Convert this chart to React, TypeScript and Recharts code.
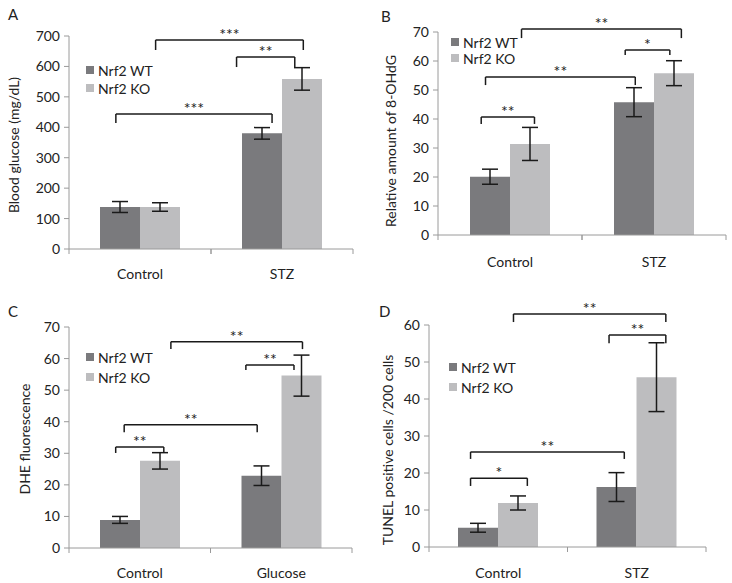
import React from "react";
import { BarChart, Bar, XAxis, YAxis, ErrorBar, ReferenceLine } from "recharts";

// Panel A - blood glucose
const catsA = ["Control", "STZ"];
const wtA = [138, 380];
const wtErrA = [18, 19];
const koA = [138, 559];
const koErrA = [14, 37];
const ticksA = [0, 100, 200, 300, 400, 500, 600, 700];
// brackets in data units (x on a 0..2 category scale)
const sigA = [
  { from: 0.61, to: 1.65, at: 687, leg: 654, mark: "***" },
  { from: 1.18, to: 1.59, at: 631, leg: 598, mark: "**" },
  { from: 0.33, to: 1.43, at: 444, leg: 414, mark: "***" },
];

// Panel B - 8-OHdG
const catsB = ["Control", "STZ"];
const wtB = [20.1, 45.8];
const wtErrB = [2.6, 5];
const koB = [31.4, 55.8];
const koErrB = [5.7, 4.3];
const ticksB = [0, 10, 20, 30, 40, 50, 60, 70];
const sigB = [
  { from: 0.58, to: 1.69, at: 71, leg: 67.9, mark: "**" },
  { from: 1.3, to: 1.61, at: 63.8, leg: 62.1, mark: "*" },
  { from: 0.33, to: 1.37, at: 54.5, leg: 51.7, mark: "**" },
  { from: 0.3, to: 0.67, at: 40.7, leg: 38.3, mark: "**" },
];

// Panel C - DHE fluorescence
const catsC = ["Control", "Glucose"];
const wtC = [8.9, 22.9];
const wtErrC = [1.1, 3.1];
const koC = [27.6, 54.6];
const koErrC = [2.6, 6.5];
const ticksC = [0, 10, 20, 30, 40, 50, 60, 70];
const sigC = [
  { from: 0.72, to: 1.65, at: 65.3, leg: 63, mark: "**" },
  { from: 1.25, to: 1.59, at: 58, leg: 56.4, mark: "**" },
  { from: 0.39, to: 1.33, at: 39, leg: 36.7, mark: "**" },
  { from: 0.33, to: 0.67, at: 32, leg: 30.1, mark: "**" },
];

// Panel D - TUNEL
const catsD = ["Control", "STZ"];
const wtD = [5.2, 16.2];
const wtErrD = [1.2, 3.9];
const koD = [11.9, 45.9];
const koErrD = [1.9, 9.3];
const ticksD = [0, 10, 20, 30, 40, 50, 60];
const sigD = [
  { from: 0.61, to: 1.71, at: 63, leg: 60.8, mark: "**" },
  { from: 1.3, to: 1.71, at: 57.3, leg: 55.1, mark: "**" },
  { from: 0.3, to: 1.41, at: 25.7, leg: 23.8, mark: "**" },
  { from: 0.3, to: 0.71, at: 18.6, leg: 16.5, mark: "*" },
];

const FONT = "Lato, 'Open Sans', sans-serif";
const WT_COLOR = "#7a7a7d";
const KO_COLOR = "#bdbdbf";
const AXIS = "#9a9a9a";
const TEXT = "#222";
const INK = "#1a1a1a";

type Sig = { from: number; to: number; at: number; leg: number; mark: string };

type PanelProps = {
  letter: string;
  yLabel: string;
  cats: string[];
  wt: number[];
  wtErr: number[];
  ko: number[];
  koErr: number[];
  ticks: number[];
  sig: Sig[];
  left: number;
  top: number;
  height: number;
  margin: { top: number; right: number; bottom: number; left: number };
  legendPos: { left: number; top: number; row: number };
  letterPos: { left: number; top: number };
  yLabelPos: { x: number; y: number };
  labelDy: number;
};

// category label plus Excel-style tick marks at the category boundaries
function CatTick(props: any) {
  const { x, y, payload, width, cats, labelDy } = props;
  const half = typeof width === "number" ? width / 4 : 0;
  const idx = Math.round(payload.value - 0.5);
  return (
    <g>
      {half > 0 && (
        <>
          <line x1={x - half} y1={y} x2={x - half} y2={y + 5} stroke={AXIS} />
          <line x1={x + half} y1={y} x2={x + half} y2={y + 5} stroke={AXIS} />
        </>
      )}
      <text x={x} y={y + labelDy} textAnchor="middle" fill={TEXT} fontSize={14} fontFamily={FONT}>
        {cats[idx]}
      </text>
    </g>
  );
}

function Panel(p: PanelProps) {
  const data = p.cats.map((c, i) => ({
    pos: i + 0.5,
    cat: c,
    wt: p.wt[i],
    wtErr: p.wtErr[i],
    ko: p.ko[i],
    koErr: p.koErr[i],
  }));
  const yMax = p.ticks[p.ticks.length - 1];
  const line = { stroke: INK, strokeWidth: 1.5, ifOverflow: "visible" as const };

  return (
    <div style={{ position: "absolute", left: p.left, top: p.top, width: 366, height: p.height }}>
      <BarChart width={366} height={p.height} data={data} margin={p.margin} barGap={0} barSize={40}>
        <XAxis
          dataKey="pos"
          type="number"
          domain={[0, 2]}
          ticks={[0.5, 1.5]}
          allowDataOverflow
          height={30}
          tickSize={0}
          tickMargin={0}
          tickLine={false}
          stroke={AXIS}
          tick={<CatTick cats={p.cats} labelDy={p.labelDy} />}
        />
        <YAxis
          domain={[0, yMax]}
          ticks={p.ticks}
          width={40}
          tickSize={5}
          tickMargin={4}
          stroke={AXIS}
          tick={{ fill: TEXT, fontSize: 14, fontFamily: FONT }}
          allowDataOverflow
        />
        <Bar dataKey="wt" name="Nrf2 WT" fill={WT_COLOR} isAnimationActive={false}>
          <ErrorBar dataKey="wtErr" width={8} stroke={INK} strokeWidth={1.5} direction="y" isAnimationActive={false} />
        </Bar>
        <Bar dataKey="ko" name="Nrf2 KO" fill={KO_COLOR} isAnimationActive={false}>
          <ErrorBar dataKey="koErr" width={8} stroke={INK} strokeWidth={1.5} direction="y" isAnimationActive={false} />
        </Bar>
        {p.sig.map((s, i) => (
          <ReferenceLine
            key={"h" + i}
            {...line}
            segment={[{ x: s.from, y: s.at }, { x: s.to, y: s.at }]}
            label={{ value: s.mark, position: "top", offset: 0, fill: TEXT, fontSize: 16, fontFamily: FONT }}
          />
        ))}
        {p.sig.map((s, i) => (
          <ReferenceLine key={"l" + i} {...line} segment={[{ x: s.from, y: s.at }, { x: s.from, y: s.leg }]} />
        ))}
        {p.sig.map((s, i) => (
          <ReferenceLine key={"r" + i} {...line} segment={[{ x: s.to, y: s.at }, { x: s.to, y: s.leg }]} />
        ))}
      </BarChart>
      <div
        style={{
          position: "absolute",
          left: p.legendPos.left,
          top: p.legendPos.top,
          fontFamily: FONT,
          fontSize: 14,
          color: TEXT,
        }}
      >
        {[
          ["Nrf2 WT", WT_COLOR],
          ["Nrf2 KO", KO_COLOR],
        ].map(([n, c]) => (
          <div key={n} style={{ display: "flex", alignItems: "center", height: p.legendPos.row, whiteSpace: "nowrap" }}>
            <span style={{ width: 8, height: 8, background: c, marginRight: 4, display: "inline-block" }} />
            {n}
          </div>
        ))}
      </div>
      <div
        style={{
          position: "absolute",
          left: p.letterPos.left,
          top: p.letterPos.top,
          fontFamily: FONT,
          fontSize: 15,
          color: TEXT,
          lineHeight: 1,
        }}
      >
        {p.letter}
      </div>
      <div
        style={{
          position: "absolute",
          left: p.yLabelPos.x,
          top: p.yLabelPos.y,
          transform: "translate(-50%, -50%) rotate(-90deg)",
          whiteSpace: "nowrap",
          fontFamily: FONT,
          fontSize: 14,
          color: TEXT,
        }}
      >
        {p.yLabel}
      </div>
    </div>
  );
}

export default function App() {
  return (
    <div style={{ position: "absolute", left: 0, top: 0, width: 732, height: 583, background: "#fff" }}>
      <Panel
        letter="A"
        yLabel="Blood glucose (mg/dL)"
        cats={catsA}
        wt={wtA}
        wtErr={wtErrA}
        ko={koA}
        koErr={koErrA}
        ticks={ticksA}
        sig={sigA}
        left={0}
        top={0}
        height={290}
        margin={{ top: 36, right: 13, bottom: 11, left: 29 }}
        legendPos={{ left: 86, top: 61, row: 18 }}
        letterPos={{ left: 8, top: 7 }}
        yLabelPos={{ x: 13, y: 145 }}
        labelDy={30}
      />
      <Panel
        letter="B"
        yLabel="Relative amount of 8-OHdG"
        cats={catsB}
        wt={wtB}
        wtErr={wtErrB}
        ko={koB}
        koErr={koErrB}
        ticks={ticksB}
        sig={sigB}
        left={366}
        top={0}
        height={290}
        margin={{ top: 32, right: 6, bottom: 25, left: 32 }}
        legendPos={{ left: 85, top: 34, row: 16 }}
        letterPos={{ left: 15, top: 9 }}
        yLabelPos={{ x: 24, y: 141 }}
        labelDy={32}
      />
      <Panel
        letter="C"
        yLabel="DHE fluorescence"
        cats={catsC}
        wt={wtC}
        wtErr={wtErrC}
        ko={koC}
        koErr={koErrC}
        ticks={ticksC}
        sig={sigC}
        left={0}
        top={290}
        height={293}
        margin={{ top: 37, right: 14, bottom: 5, left: 29 }}
        legendPos={{ left: 86, top: 57, row: 20 }}
        letterPos={{ left: 8, top: 14 }}
        yLabelPos={{ x: 24, y: 149 }}
        labelDy={30}
      />
      <Panel
        letter="D"
        yLabel="TUNEL positive cells /200 cells"
        cats={catsD}
        wt={wtD}
        wtErr={wtErrD}
        ko={koD}
        koErr={koErrD}
        ticks={ticksD}
        sig={sigD}
        left={366}
        top={290}
        height={293}
        margin={{ top: 35, right: 26, bottom: 6, left: 23 }}
        legendPos={{ left: 83, top: 67, row: 20 }}
        letterPos={{ left: 13, top: 14 }}
        yLabelPos={{ x: 21, y: 160 }}
        labelDy={31}
      />
    </div>
  );
}
